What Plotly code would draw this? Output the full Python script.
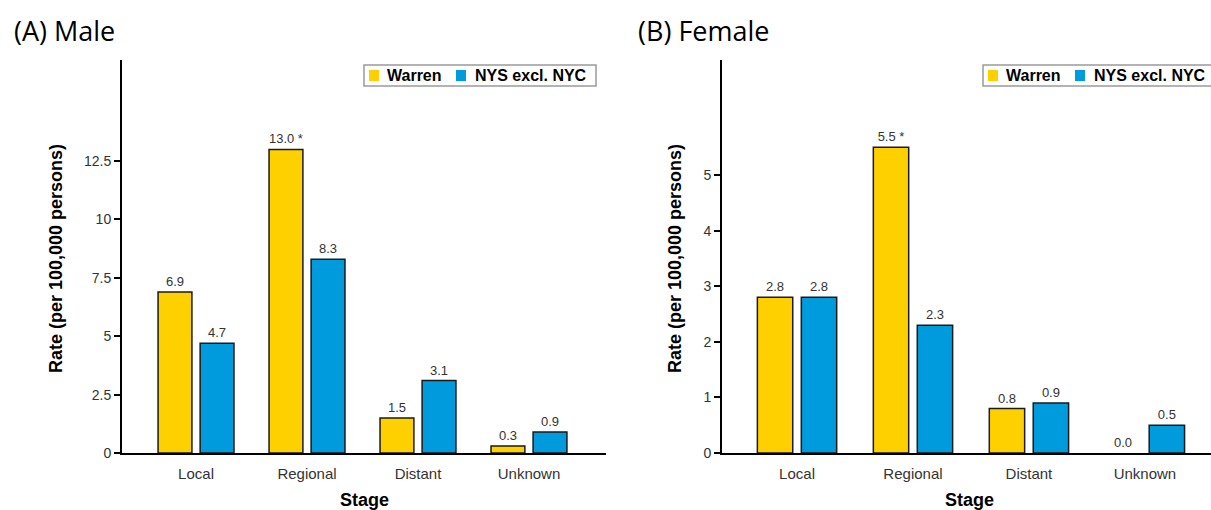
import plotly.graph_objects as go

# Stage-specific incidence rates (per 100,000 persons)
stages = ["Local", "Regional", "Distant", "Unknown"]
series_names = ["Warren", "NYS excl. NYC"]

male_warren = [6.9, 13.0, 1.5, 0.3]
male_nys = [4.7, 8.3, 3.1, 0.9]
male_warren_flag = ["", " *", "", ""]
male_nys_flag = ["", "", "", ""]

female_warren = [2.8, 5.5, 0.8, 0.0]
female_nys = [2.8, 2.3, 0.9, 0.5]
female_warren_flag = ["", " *", "", ""]
female_nys_flag = ["", "", "", ""]

male_ticks = [0, 2.5, 5, 7.5, 10, 12.5]
male_tick_text = ["0", "2.5", "5", "7.5", "10", "12.5"]
female_ticks = [0, 1, 2, 3, 4, 5]
female_tick_text = ["0", "1", "2", "3", "4", "5"]

panel_titles = ["(A) Male", "(B) Female"]
y_title = "Rate (per 100,000 persons)"
x_title = "Stage"

YELLOW = "#FFD000"
BLUE = "#009BDC"
OUTLINE = "#1a1a1a"
SANS = "Liberation Sans"

W, H = 1211, 510


def px(x):
    return x / W


def py(y):
    return 1 - y / H


fig = go.Figure()


def labels(vals, flags):
    return [f"{v:.1f}{f}" for v, f in zip(vals, flags)]


def add_bars(vals, flags, color, offset, xa, ya):
    # zero-height bars get no outline so only their value label shows
    line_w = [1.5 if v > 0 else 0 for v in vals]
    fig.add_trace(go.Bar(
        x=stages, y=vals, xaxis=xa, yaxis=ya,
        width=0.305, offset=offset,
        marker=dict(color=color, line=dict(color=OUTLINE, width=line_w)),
        text=labels(vals, flags), textposition="outside",
        textfont=dict(family=SANS, size=13, color="#333333"),
        cliponaxis=False, showlegend=False, hoverinfo="x+y",
    ))


add_bars(male_warren, male_warren_flag, YELLOW, -0.342, "x", "y")
add_bars(male_nys, male_nys_flag, BLUE, 0.037, "x", "y")
add_bars(female_warren, female_warren_flag, YELLOW, -0.342, "x2", "y2")
add_bars(female_nys, female_nys_flag, BLUE, 0.037, "x2", "y2")

x_common = dict(
    type="category", showline=True, linecolor="black", linewidth=2,
    ticks="", showgrid=False, zeroline=False, fixedrange=True,
    ticklabelstandoff=6,
    tickfont=dict(family=SANS, size=15, color="#333333"),
)
y_common = dict(
    showline=True, linecolor="black", linewidth=2, ticks="outside",
    ticklen=6, tickwidth=1.5, tickcolor="black", showgrid=False,
    zeroline=False, fixedrange=True,
    tickfont=dict(family=SANS, size=14, color="#333333"),
)

bottom, top = py(453), py(60)

fig.update_layout(
    width=W, height=H,
    margin=dict(l=0, r=0, t=0, b=0, autoexpand=False),
    paper_bgcolor="white", plot_bgcolor="white",
    barmode="overlay",
    xaxis=dict(domain=[px(122), px(606)], range=[-0.667, 3.694],
               anchor="y", **x_common),
    yaxis=dict(domain=[bottom, top], range=[0, 16.83], anchor="x",
               tickvals=male_ticks, ticktext=male_tick_text, **y_common),
    xaxis2=dict(domain=[px(722), 1.0], range=[-0.647, 3.57],
                anchor="y2", **x_common),
    yaxis2=dict(domain=[bottom, top], range=[0, 7.07], anchor="x2",
                tickvals=female_ticks, ticktext=female_tick_text, **y_common),
)

annotations = []
shapes = []

# Panel headings
for text, x0 in zip(panel_titles, [12, 636]):
    annotations.append(dict(
        text=text, x=px(x0), y=py(30), xref="paper", yref="paper",
        xanchor="left", yanchor="middle", showarrow=False,
        font=dict(family="Open Sans", size=27, color="black"),
    ))

# Axis titles
for xc in [56, 675]:
    annotations.append(dict(
        text=f"<b>{y_title}</b>", x=px(xc), y=py(259), xref="paper",
        yref="paper", textangle=-90, xanchor="center", yanchor="middle",
        showarrow=False, font=dict(family=SANS, size=18, color="black"),
    ))
for xc in [364, 969]:
    annotations.append(dict(
        text=f"<b>{x_title}</b>", x=px(xc), y=py(500), xref="paper",
        yref="paper", xanchor="center", yanchor="middle", showarrow=False,
        font=dict(family=SANS, size=18, color="black"),
    ))

# Legend boxes: frame, colour keys and bold series names
for bx in [364, 983]:
    shapes.append(dict(
        type="rect", xref="paper", yref="paper",
        x0=px(bx), x1=px(bx + 232), y0=py(86), y1=py(65),
        line=dict(color="#9a9a9a", width=1.5), fillcolor="white",
        layer="above",
    ))
    keys = [(bx + 5, YELLOW, series_names[0], bx + 21),
            (bx + 92, BLUE, series_names[1], bx + 109)]
    for kx, col, name, tx in keys:
        shapes.append(dict(
            type="rect", xref="paper", yref="paper",
            x0=px(kx), x1=px(kx + 10), y0=py(81), y1=py(70),
            line=dict(width=0), fillcolor=col, layer="above",
        ))
        annotations.append(dict(
            text=f"<b>{name}</b>", x=px(tx), y=py(75.5), xref="paper",
            yref="paper", xanchor="left", yanchor="middle", showarrow=False,
            font=dict(family=SANS, size=16, color="black"),
        ))

fig.update_layout(annotations=annotations, shapes=shapes)

fig.write_html("out.html")
